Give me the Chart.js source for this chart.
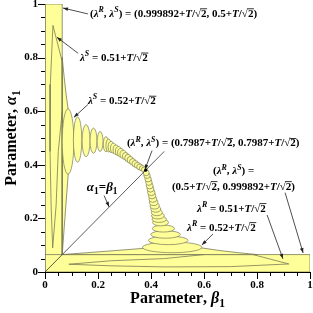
<!DOCTYPE html>
<html lang="en">
<head>
<meta charset="UTF-8">
<title>Parameter plane (alpha1, beta1)</title>
<script src="https://cdn.jsdelivr.net/npm/chart.js"></script>
<style>
  html, body { margin: 0; padding: 0; background: #fff; }
  #wrap { width: 313px; height: 313px; }
</style>
</head>
<body>
<div id="wrap"><canvas id="chart"></canvas></div>
<script>
// tick labels on both axes
const xTicks = [0, 0.2, 0.4, 0.6, 0.8, 1];
const yTicks = [0, 0.2, 0.4, 0.6, 0.8, 1];

// yellow regions as [beta, alpha] corners
const bandV = [[0, 0], [0.065, 0], [0.065, 1], [0, 1], [0, 0]];
const bandH = [[0, 0], [1, 0], [1, 0.065], [0, 0.065], [0, 0]];
const wedgeUp = [[0.065, 0.065], [0.075, 0.2], [0.088, 0.37], [0.095, 0.48], [0.09, 0.59],
                 [0.08, 0.66], [0.072, 0.73], [0.065, 0.8], [0.065, 0.065]];
const wedgeLow = [[0.065, 0.065], [0.2, 0.075], [0.37, 0.088], [0.48, 0.095], [0.59, 0.09],
                  [0.66, 0.08], [0.73, 0.072], [0.8, 0.065], [0.065, 0.065]];

// thin lambda = 0.51 spikes inside the bands
const spikeUp = [[0.065, 0.785], [0.03, 0.92], [0.02, 0.7], [0.019, 0.45], [0.023, 0.25],
                 [0.029, 0.09], [0.042, 0.25], [0.05, 0.45], [0.065, 0.6]];
const spikeLow = [[0.785, 0.065], [0.92, 0.03], [0.7, 0.02], [0.45, 0.019], [0.25, 0.023],
                  [0.09, 0.029], [0.25, 0.042], [0.45, 0.05], [0.6, 0.065]];

// diagonal alpha1 = beta1
const diagonal = [[0, 0], [0.45, 0.45]];

// lobes: [beta, alpha, half width in beta, half height in alpha]
const upperLobes = [
  [0.087, 0.487, 0.022, 0.122], [0.123, 0.494, 0.016, 0.084], [0.155, 0.49, 0.015, 0.06],
  [0.183, 0.49, 0.013, 0.047], [0.208, 0.487, 0.011, 0.037], [0.23, 0.477, 0.01, 0.028],
  [0.24, 0.472, 0.01, 0.024], [0.249, 0.467, 0.011, 0.021], [0.258, 0.462, 0.011, 0.019],
  [0.268, 0.456, 0.011, 0.018], [0.277, 0.451, 0.011, 0.017], [0.286, 0.445, 0.012, 0.016],
  [0.295, 0.439, 0.012, 0.015], [0.304, 0.432, 0.012, 0.014], [0.313, 0.425, 0.012, 0.014],
  [0.322, 0.418, 0.012, 0.013], [0.331, 0.411, 0.012, 0.012], [0.34, 0.404, 0.012, 0.012],
  [0.349, 0.398, 0.012, 0.011], [0.358, 0.392, 0.012, 0.011], [0.367, 0.387, 0.011, 0.01],
  [0.375, 0.382, 0.011, 0.01]
];
const lowerLobes = [
  [0.48, 0.092, 0.112, 0.02], [0.465, 0.118, 0.075, 0.016], [0.455, 0.14, 0.056, 0.014],
  [0.447, 0.162, 0.042, 0.013], [0.436, 0.185, 0.03, 0.013], [0.431, 0.197, 0.027, 0.012],
  [0.426, 0.21, 0.024, 0.012], [0.422, 0.222, 0.021, 0.012], [0.418, 0.235, 0.019, 0.012],
  [0.414, 0.247, 0.017, 0.012], [0.41, 0.26, 0.016, 0.012], [0.407, 0.272, 0.015, 0.012],
  [0.404, 0.285, 0.014, 0.012], [0.401, 0.297, 0.014, 0.012], [0.398, 0.31, 0.013, 0.012],
  [0.395, 0.322, 0.013, 0.012], [0.392, 0.335, 0.012, 0.012], [0.389, 0.347, 0.012, 0.011],
  [0.385, 0.36, 0.012, 0.011], [0.382, 0.37, 0.011, 0.011]
];

// annotation texts: [beta, alpha, text]  (^ = superscript, _ = subscript)
const notes = [
  [0.17, 0.963, '(λ^R, λ^S) = (0.999892+T/√2, 0.5+T/√2)'],
  [0.132, 0.798, 'λ^S = 0.51+T/√2'],
  [0.162, 0.637, 'λ^S = 0.52+T/√2'],
  [0.309, 0.479, '(λ^R, λ^S) = (0.7987+T/√2, 0.7987+T/√2)'],
  [0.634, 0.375, '(λ^R, λ^S) ='],
  [0.479, 0.318, '(0.5+T/√2, 0.999892+T/√2)'],
  [0.574, 0.236, 'λ^R = 0.51+T/√2'],
  [0.536, 0.165, 'λ^R = 0.52+T/√2']
];
const diagNote = [0.158, 0.315, 'α_1=β_1'];
// arrows: [fromBeta, fromAlpha, toBeta, toAlpha]
const arrows = [
  [0.162, 0.963, 0.068, 0.985], [0.125, 0.816, 0.045, 0.876], [0.162, 0.625, 0.109, 0.577],
  [0.404, 0.453, 0.377, 0.382], [0.223, 0.285, 0.242, 0.243], [0.906, 0.296, 0.974, 0.071],
  [0.838, 0.213, 0.898, 0.049], [0.634, 0.142, 0.592, 0.101]
];
const crossing = [0.38, 0.38];

const FILL = '#ffff99';
const EDGE = '#7a7a58';
const FONT = '"Liberation Serif", "Times New Roman", serif';

const toPts = arr => arr.map(p => ({x: p[0], y: p[1]}));

function shape(data, filled) {
  return {
    data: toPts(data),
    fill: filled ? 'shape' : false,
    backgroundColor: FILL,
    borderColor: EDGE,
    borderWidth: 0.8,
    pointRadius: 0,
    tension: 0
  };
}

function parseLabel(s) {
  const out = [];
  for (let i = 0; i < s.length; i++) {
    let ch = s[i], kind = 'n';
    const over = i > 0 && s[i - 1] === '√';
    if (ch === '^') { ch = s[++i]; kind = 'sup'; }
    else if (ch === '_') { ch = s[++i]; kind = 'sub'; }
    else if ('λαβT'.includes(ch)) kind = 'i';
    out.push({ch, kind, over});
  }
  return out;
}

function drawLabel(ctx, s, x, y, size) {
  let cx = x;
  ctx.textBaseline = 'middle';
  ctx.textAlign = 'left';
  parseLabel(s).forEach(p => {
    const small = p.kind === 'sup' || p.kind === 'sub';
    const sz = small ? size * 0.72 : size;
    const style = (p.kind === 'i' || p.kind === 'sup') ? 'italic bold' : 'bold';
    ctx.font = `${style} ${sz}px ${FONT}`;
    const dy = p.kind === 'sup' ? -size * 0.35 : p.kind === 'sub' ? size * 0.3 : 0;
    ctx.fillText(p.ch, cx, y + dy);
    const w = ctx.measureText(p.ch).width;
    if (p.over) ctx.fillRect(cx - 0.5, y - size * 0.5, w + 1, 0.8);
    cx += w;
  });
  return cx - x;
}

function arrow(ctx, x1, y1, x2, y2) {
  ctx.beginPath();
  ctx.moveTo(x1, y1);
  ctx.lineTo(x2, y2);
  ctx.stroke();
  const ang = Math.atan2(y2 - y1, x2 - x1), L = 5, W = 1.8;
  const bx = x2 - L * Math.cos(ang), by = y2 - L * Math.sin(ang);
  ctx.beginPath();
  ctx.moveTo(x2, y2);
  ctx.lineTo(bx + W * Math.sin(ang), by - W * Math.cos(ang));
  ctx.lineTo(bx - W * Math.sin(ang), by + W * Math.cos(ang));
  ctx.closePath();
  ctx.fill();
}

const isMajor = v => Math.abs(v * 5 - Math.round(v * 5)) < 1e-6;

const marks = {
  id: 'marks',
  afterDatasetDraw(chart, args) {
    if (args.index !== 3) return;
    const {ctx, chartArea: a, scales: {x, y}} = chart;
    ctx.save();
    ctx.beginPath();
    ctx.rect(a.left, a.top, a.right - a.left, a.bottom - a.top);
    ctx.clip();
    ctx.fillStyle = FILL;
    ctx.strokeStyle = EDGE;
    ctx.lineWidth = 0.7;
    upperLobes.concat(lowerLobes).forEach(([b, al, rb, ra]) => {
      const cx = x.getPixelForValue(b), cy = y.getPixelForValue(al);
      const rx = Math.abs(x.getPixelForValue(b + rb) - cx);
      const ry = Math.abs(y.getPixelForValue(al + ra) - cy);
      ctx.beginPath();
      ctx.ellipse(cx, cy, rx, ry, 0, 0, Math.PI * 2);
      ctx.fill();
      ctx.stroke();
    });
    ctx.restore();
  },
  afterDraw(chart) {
    const {ctx, chartArea: a, scales: {x, y}} = chart;
    ctx.save();
    // tick marks, outward
    ctx.strokeStyle = '#000';
    ctx.lineWidth = 1;
    x.ticks.forEach(t => {
      const px = Math.round(x.getPixelForValue(t.value)) + 0.5;
      const len = isMajor(t.value) ? 7 : 4;
      ctx.beginPath(); ctx.moveTo(px, a.bottom); ctx.lineTo(px, a.bottom + len); ctx.stroke();
    });
    y.ticks.forEach(t => {
      const py = Math.round(y.getPixelForValue(t.value)) + 0.5;
      const len = isMajor(t.value) ? 7 : 4;
      ctx.beginPath(); ctx.moveTo(a.left - len, py); ctx.lineTo(a.left, py); ctx.stroke();
    });

    // crossing dot
    ctx.fillStyle = '#000';
    ctx.beginPath();
    ctx.arc(x.getPixelForValue(crossing[0]), y.getPixelForValue(crossing[1]), 1.6, 0, Math.PI * 2);
    ctx.fill();

    // arrows
    ctx.strokeStyle = '#222';
    ctx.fillStyle = '#222';
    ctx.lineWidth = 0.8;
    arrows.forEach(([b1, a1, b2, a2]) => arrow(ctx,
      x.getPixelForValue(b1), y.getPixelForValue(a1),
      x.getPixelForValue(b2), y.getPixelForValue(a2)));

    // annotations
    ctx.fillStyle = '#000';
    notes.forEach(([b, al, s]) => drawLabel(ctx, s, x.getPixelForValue(b), y.getPixelForValue(al), 11));
    drawLabel(ctx, diagNote[2], x.getPixelForValue(diagNote[0]), y.getPixelForValue(diagNote[1]), 13);

    // axis titles
    const tmp = document.createElement('canvas').getContext('2d');
    const xt = 'Parameter, β_1';
    const xw = drawLabel(tmp, xt, 0, 0, 16);
    drawLabel(ctx, xt, (a.left + a.right) / 2 - xw / 2, 299, 16);
    const yt = 'Parameter, α_1';
    const yw = drawLabel(tmp, yt, 0, 0, 16);
    ctx.translate(12, (a.top + a.bottom) / 2);
    ctx.rotate(-Math.PI / 2);
    drawLabel(ctx, yt, -yw / 2, 0, 16);
    ctx.restore();
  }
};

const tickFont = {family: FONT, size: 11, weight: 'bold', lineHeight: 1};
const fmt = v => {
  const m = xTicks.find(t => Math.abs(t - v) < 1e-6);
  return m === undefined ? '' : String(m);
};
const fmtY = v => {
  const m = yTicks.find(t => Math.abs(t - v) < 1e-6);
  return m === undefined ? '' : String(m);
};

new Chart(document.getElementById('chart'), {
  type: 'line',
  data: {
    datasets: [
      Object.assign(shape(diagonal, false), {borderColor: '#333'}),
      shape(spikeUp, false),
      shape(spikeLow, false),
      shape(wedgeUp, true),
      shape(wedgeLow, true),
      shape(bandH, true),
      shape(bandV, true)
    ]
  },
  options: {
    responsive: true,
    maintainAspectRatio: false,
    animation: false,
    layout: {padding: {top: 4, right: 3, left: 0, bottom: 0}},
    plugins: {legend: {display: false}, tooltip: {enabled: false}},
    scales: {
      x: {
        type: 'linear', min: 0, max: 1,
        grid: {drawOnChartArea: false, drawTicks: false},
        border: {display: true, color: '#000', width: 1},
        ticks: {stepSize: 0.05, autoSkip: false, maxRotation: 0, padding: 8,
                color: '#000', font: tickFont, callback: fmt},
        afterFit: s => { s.height = 41; s.paddingLeft = 0; s.paddingRight = 0; }
      },
      y: {
        type: 'linear', min: 0, max: 1,
        grid: {drawOnChartArea: false, drawTicks: false},
        border: {display: true, color: '#000', width: 1},
        ticks: {stepSize: 0.05, autoSkip: false, padding: 7,
                color: '#000', font: tickFont, callback: fmtY},
        afterFit: s => { s.width = 45; s.paddingTop = 0; s.paddingBottom = 0; }
      }
    }
  },
  plugins: [marks]
});
</script>
</body>
</html>
